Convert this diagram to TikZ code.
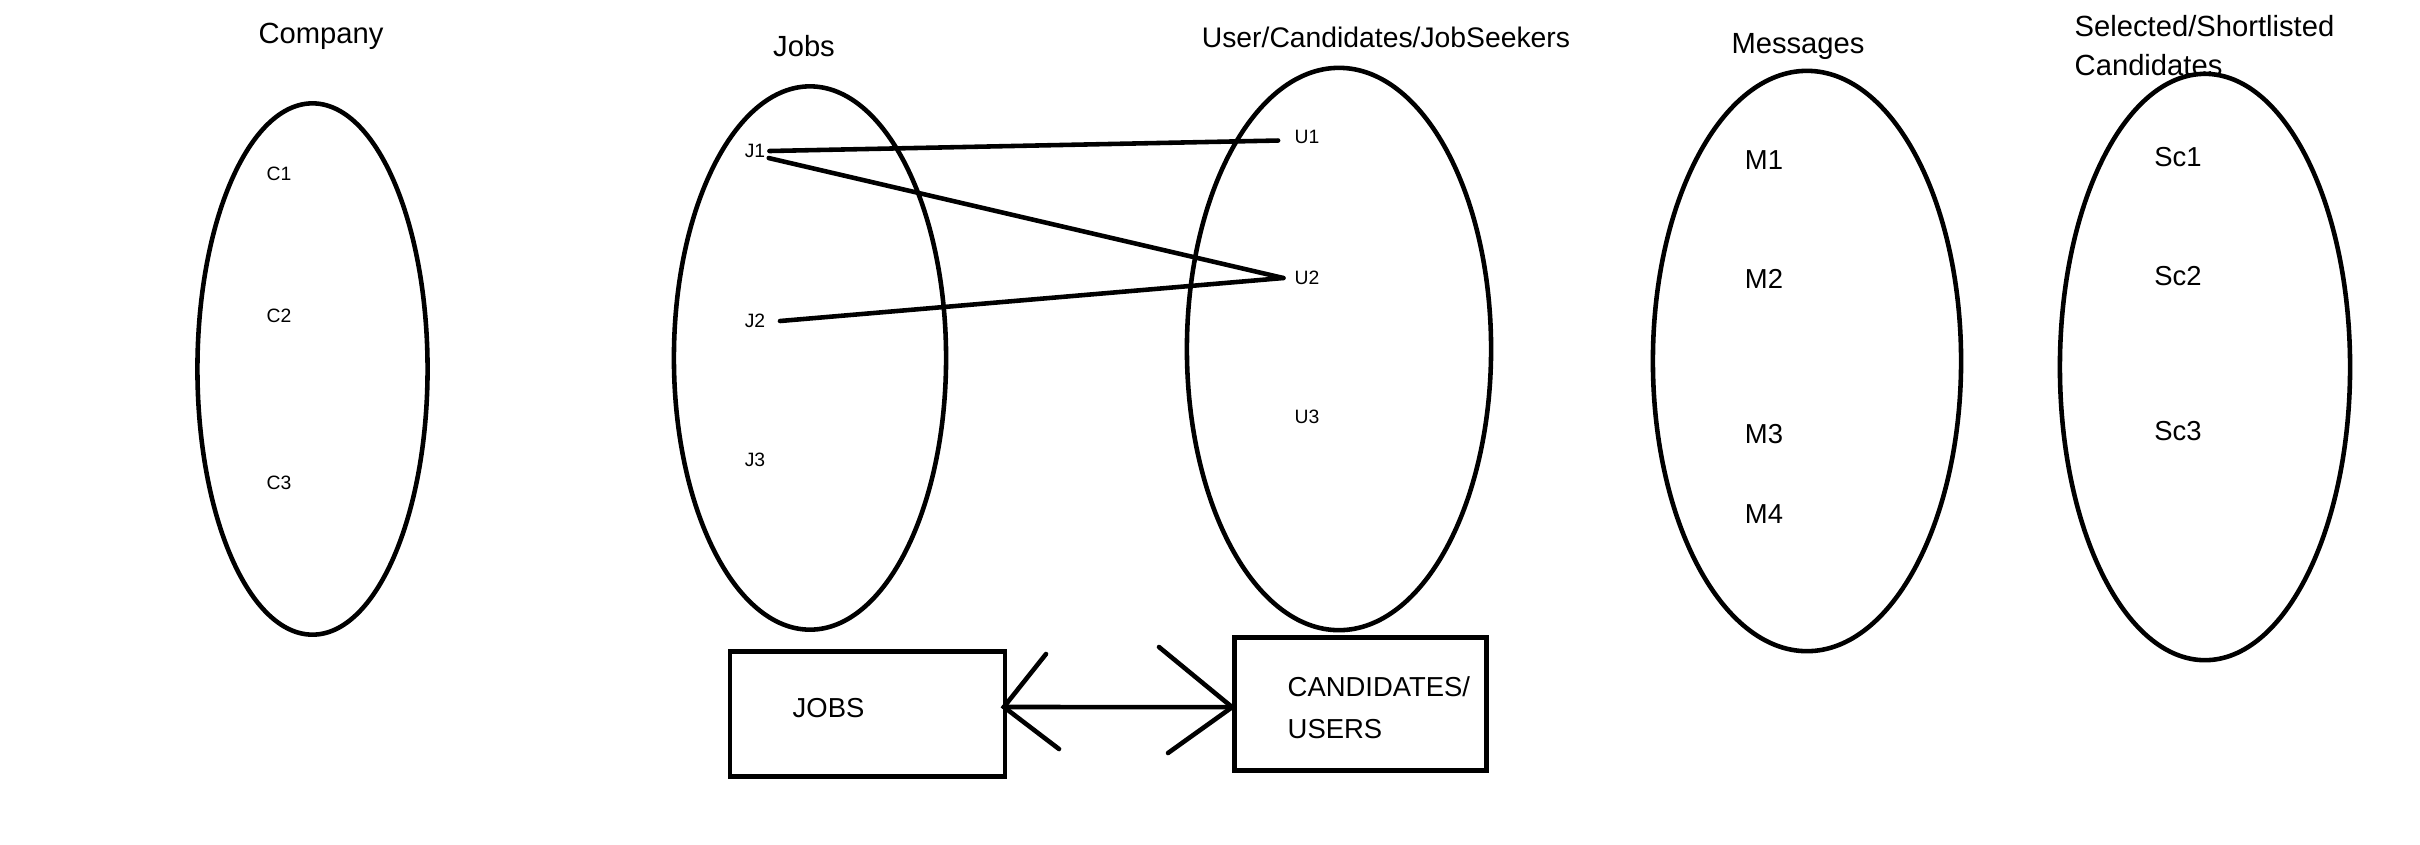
\documentclass[tikz,border=0pt]{standalone}
\usepackage{fontspec}
\setmainfont{Liberation Sans}
\usetikzlibrary{shapes.geometric}
\begin{document}
\begin{tikzpicture}[x=0.01cm,y=-0.01cm,
  setell/.style={draw, ellipse, line width=1.3pt, inner sep=0pt},
  title/.style={font=\fontsize{8.3}{9.5}\selectfont, inner sep=0pt},
  small/.style={font=\fontsize{5.5}{6.5}\selectfont, inner sep=0pt},
  big/.style={font=\fontsize{7.8}{9}\selectfont, inner sep=0pt},
  box/.style={draw, line width=1.3pt, inner sep=0pt},
  link/.style={line width=1.3pt, line cap=round}]
\useasboundingbox (0,0) rectangle (2420,844);
\fill[white] (0,0) rectangle (2420,844);

% ellipses
\node[setell, minimum width=2.30cm, minimum height=5.31cm] (company) at (312.5,369) {};
\node[setell, minimum width=2.72cm, minimum height=5.43cm] (jobs) at (810,358) {};
\node[setell, minimum width=3.04cm, minimum height=5.62cm] (users) at (1339,349) {};
\node[setell, minimum width=3.08cm, minimum height=5.80cm] (msgs) at (1807,361) {};
\node[setell, minimum width=2.90cm, minimum height=5.86cm] (sel) at (2205,367) {};

% titles
\node[title] (tcompany) at (321,36) {Company};
\node[title] (tjobs) at (804,46) {Jobs};
\node[title, font=\fontsize{8.05}{9.5}\selectfont] (tusers) at (1386,37) {User/Candidates/JobSeekers};
\node[title] (tmsgs) at (1798,46) {Messages};
\node[title, anchor=west] (tsel1) at (2074,26) {Selected/Shortlisted};
\node[title, anchor=west] (tsel2) at (2074,65) {Candidates};

% items
\node[small] (C1) at (279,174) {C1};
\node[small] (C2) at (279,316) {C2};
\node[small] (C3) at (279,483) {C3};
\node[small] (J1) at (755,151) {J1};
\node[small] (J2) at (755,321) {J2};
\node[small] (J3) at (755,460) {J3};
\node[small] (U1) at (1307,137) {U1};
\node[small] (U2) at (1307,278) {U2};
\node[small] (U3) at (1307,417) {U3};
\node[big] (M1) at (1764,160) {M1};
\node[big] (M2) at (1764,279) {M2};
\node[big] (M3) at (1764,434) {M3};
\node[big] (M4) at (1764,514) {M4};
\node[big] (Sc1) at (2178,157) {Sc1};
\node[big] (Sc2) at (2178,276) {Sc2};
\node[big] (Sc3) at (2178,431) {Sc3};

% connectors between sets
\draw[link] ([xshift=1pt]J1.east) -- ([xshift=-4.5pt,yshift=-1pt]U1.west);
\draw[link] ([xshift=0.8pt,yshift=-2pt]J1.east) -- ([xshift=-3pt]U2.west);
\draw[link] ([xshift=4pt]J2.east) -- ([xshift=-3pt]U2.west);

% boxes
\node[box, minimum width=2.75cm, minimum height=1.25cm] (jobsbox) at (867.5,714) {};
\node[big, anchor=west] (jobstext) at (792,708) {JOBS};
\node[box, minimum width=2.52cm, minimum height=1.33cm] (candbox) at (1360.5,704) {};
\node[big, anchor=west, align=left] (candtext) at (1287,708) {CANDIDATES/\\[3pt]USERS};

% double-headed connector
\coordinate (h1) at (1046,654);
\coordinate (h2) at (1059,749);
\coordinate (h3) at (1159,647);
\coordinate (h4) at (1168,753);
\coordinate (tipL) at ([xshift=-1pt,yshift=2pt]jobsbox.east);
\coordinate (tipR) at ([yshift=-0.9pt]candbox.west);
\draw[link] (tipL) -- (tipR);
\draw[link] (h1) -- (tipL) -- (h2);
\draw[link] (h3) -- (tipR) -- (h4);
\end{tikzpicture}
\end{document}
